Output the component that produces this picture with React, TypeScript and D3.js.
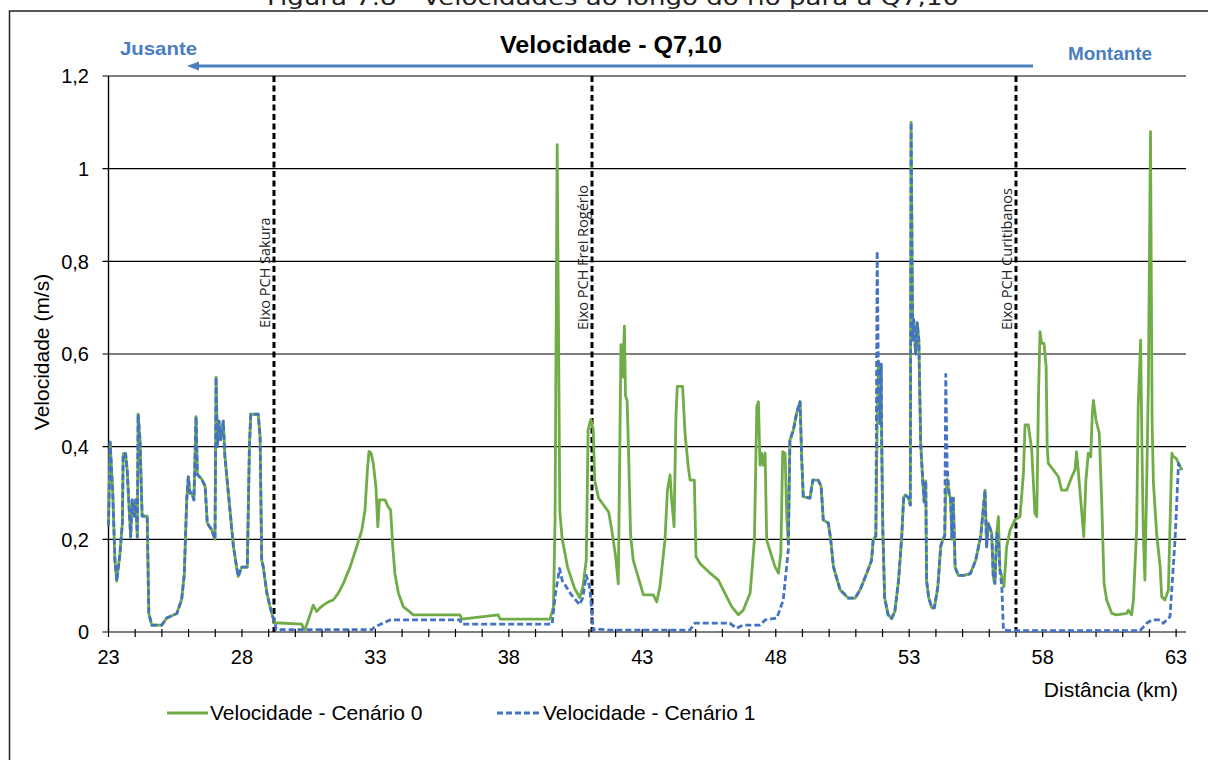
import React from "react";
import * as d3 from "d3";

// ---------- DATA ----------
const xMajorTicks = [23, 28, 33, 38, 43, 48, 53, 58, 63];
const yTicks = [0, 0.2, 0.4, 0.6, 0.8, 1.0, 1.2];
const yTickLabels = ["0", "0,2", "0,4", "0,6", "0,8", "1", "1,2"];

// km, velocity — stretch where both scenarios coincide (upstream of Sakura)
const sharedReach: [number, number][] = [
  [23.0, 0.23], [23.06, 0.41], [23.16, 0.3], [23.24, 0.155], [23.31, 0.11], [23.37, 0.14], [23.43, 0.17],
  [23.52, 0.235], [23.55, 0.385], [23.64, 0.385], [23.7, 0.35], [23.78, 0.26], [23.83, 0.205], [23.89, 0.285],
  [23.97, 0.25], [24.02, 0.285], [24.08, 0.205], [24.11, 0.47], [24.18, 0.415], [24.26, 0.25], [24.45, 0.25],
  [24.51, 0.04], [24.62, 0.015], [25.0, 0.015], [25.18, 0.03], [25.56, 0.04], [25.74, 0.07], [25.84, 0.125],
  [25.93, 0.285], [25.99, 0.335], [26.05, 0.3], [26.12, 0.3], [26.2, 0.285], [26.28, 0.465], [26.33, 0.34],
  [26.49, 0.33], [26.62, 0.315], [26.7, 0.235], [26.87, 0.22], [26.99, 0.2], [27.03, 0.55], [27.08, 0.4],
  [27.14, 0.455], [27.2, 0.415], [27.3, 0.455], [27.36, 0.38], [27.49, 0.3], [27.68, 0.185], [27.8, 0.14],
  [27.86, 0.12], [27.99, 0.14], [28.2, 0.14], [28.28, 0.4], [28.33, 0.47], [28.61, 0.47], [28.68, 0.42],
  [28.74, 0.155], [28.8, 0.14], [28.93, 0.085], [29.05, 0.055], [29.17, 0.03], [29.24, 0.02],
];

// Cenário 0 between Sakura and ~48.5 km
const cenario0Middle: [number, number][] = [
  [30.24, 0.017], [30.29, 0.01], [30.36, 0.005], [30.55, 0.037], [30.67, 0.058], [30.8, 0.044], [30.92, 0.052],
  [31.05, 0.058], [31.24, 0.065], [31.42, 0.069], [31.61, 0.084], [31.8, 0.105], [32.05, 0.14], [32.3, 0.184],
  [32.49, 0.22], [32.61, 0.263], [32.7, 0.35], [32.76, 0.39], [32.84, 0.386], [32.92, 0.364], [33.02, 0.313],
  [33.09, 0.227], [33.15, 0.285], [33.36, 0.285], [33.48, 0.27], [33.57, 0.263], [33.65, 0.184], [33.73, 0.127],
  [33.86, 0.084], [34.05, 0.054], [34.3, 0.043], [34.42, 0.037], [36.17, 0.037], [36.23, 0.028], [37.6, 0.037],
  [37.67, 0.028], [39.54, 0.028], [39.67, 0.054], [39.73, 0.24], [39.81, 1.052], [39.91, 0.259], [40.0, 0.2],
  [40.2, 0.14], [40.45, 0.096], [40.65, 0.074], [40.77, 0.096], [40.9, 0.155], [40.97, 0.437], [41.07, 0.459],
  [41.16, 0.437], [41.22, 0.326], [41.36, 0.289], [41.55, 0.274], [41.74, 0.259], [41.87, 0.215], [42.0, 0.163],
  [42.1, 0.104], [42.2, 0.62], [42.26, 0.55], [42.33, 0.66], [42.37, 0.51], [42.43, 0.5], [42.48, 0.4],
  [42.56, 0.21], [42.66, 0.155], [43.04, 0.08], [43.41, 0.08], [43.54, 0.065], [43.66, 0.098], [43.85, 0.199],
  [43.94, 0.306], [44.04, 0.339], [44.1, 0.285], [44.19, 0.227], [44.26, 0.465], [44.31, 0.53], [44.51, 0.53],
  [44.6, 0.429], [44.72, 0.357], [44.79, 0.328], [44.95, 0.328], [45.01, 0.163], [45.16, 0.148], [45.54, 0.127],
  [45.85, 0.112], [46.03, 0.091], [46.35, 0.055], [46.6, 0.037], [46.78, 0.047], [47.04, 0.084], [47.2, 0.199],
  [47.29, 0.486], [47.35, 0.497], [47.41, 0.36], [47.47, 0.386], [47.53, 0.36], [47.6, 0.386], [47.66, 0.199],
  [47.85, 0.163], [47.97, 0.141], [48.1, 0.127], [48.19, 0.17], [48.26, 0.389], [48.35, 0.386], [48.41, 0.25],
  [48.47, 0.191],
];

// Cenário 1 between Sakura and ~48.5 km
const cenario1Middle: [number, number][] = [
  [29.28, 0.005], [32.86, 0.005], [32.98, 0.011], [33.55, 0.026], [34.3, 0.026], [36.17, 0.026], [36.23, 0.017],
  [39.62, 0.017], [39.74, 0.081], [39.9, 0.137], [40.0, 0.111], [40.33, 0.081], [40.65, 0.059], [40.77, 0.074],
  [40.9, 0.122], [41.03, 0.096], [41.12, 0.037], [41.16, 0.003], [41.23, 0.007], [41.79, 0.004], [44.78, 0.004],
  [44.97, 0.019], [46.28, 0.019], [46.53, 0.008], [46.78, 0.015], [47.41, 0.015], [47.6, 0.026], [48.04, 0.03],
  [48.28, 0.069], [48.47, 0.177],
];

// km, Cenário 0, Cenário 1 — second stretch where the scenarios mostly coincide
const sharedReach2: [number, number, number][] = [
  [48.53, 0.414, 0.414], [48.66, 0.436, 0.436], [48.78, 0.472, 0.472], [48.91, 0.497, 0.497], [48.97, 0.378, 0.378],
  [49.03, 0.292, 0.292], [49.28, 0.289, 0.289], [49.39, 0.328, 0.328], [49.59, 0.328, 0.328], [49.7, 0.314, 0.314],
  [49.78, 0.242, 0.242], [49.97, 0.235, 0.235], [50.06, 0.199, 0.199], [50.16, 0.141, 0.141], [50.41, 0.091, 0.091],
  [50.72, 0.073, 0.073], [50.97, 0.073, 0.073], [51.16, 0.091, 0.091], [51.41, 0.127, 0.127], [51.59, 0.155, 0.155],
  [51.65, 0.199, 0.199], [51.75, 0.207, 0.207], [51.8, 0.45, 0.822], [51.84, 0.585, 0.585], [51.9, 0.55, 0.45],
  [51.95, 0.578, 0.578], [51.97, 0.407, 0.407], [52.01, 0.222, 0.222], [52.08, 0.074, 0.074], [52.21, 0.037, 0.037],
  [52.34, 0.029, 0.029], [52.46, 0.044, 0.044], [52.6, 0.111, 0.111], [52.72, 0.207, 0.207], [52.79, 0.289, 0.289],
  [52.85, 0.296, 0.296], [52.98, 0.289, 0.289], [53.04, 0.274, 0.274], [53.07, 1.1, 1.1], [53.13, 0.63, 0.63],
  [53.17, 0.674, 0.674], [53.24, 0.6, 0.6], [53.3, 0.667, 0.667], [53.36, 0.63, 0.63], [53.43, 0.407, 0.407],
  [53.5, 0.333, 0.333], [53.56, 0.281, 0.281], [53.62, 0.326, 0.326], [53.65, 0.111, 0.111], [53.73, 0.074, 0.074],
  [53.85, 0.052, 0.052], [53.94, 0.052, 0.052], [54.07, 0.096, 0.096], [54.18, 0.185, 0.185], [54.26, 0.2, 0.2],
  [54.33, 0.207, 0.207], [54.37, 0.3, 0.556], [54.42, 0.33, 0.355], [54.5, 0.296, 0.296], [54.55, 0.289, 0.289],
  [54.6, 0.2, 0.2], [54.65, 0.289, 0.289], [54.72, 0.14, 0.14], [54.84, 0.122, 0.122], [55.04, 0.122, 0.122],
  [55.29, 0.126, 0.126], [55.49, 0.155, 0.155], [55.68, 0.207, 0.207], [55.84, 0.306, 0.306], [55.9, 0.184, 0.184],
  [55.96, 0.235, 0.235], [56.09, 0.213, 0.213], [56.15, 0.119, 0.119], [56.21, 0.105, 0.105], [56.28, 0.213, 0.213],
  [56.34, 0.249, 0.2], [56.4, 0.134, 0.134],
];

// Cenário 0 downstream end
const cenario0End: [number, number][] = [
  [56.47, 0.119], [56.55, 0.098], [56.65, 0.184], [56.78, 0.22], [56.96, 0.242], [57.15, 0.249], [57.28, 0.343],
  [57.34, 0.447], [57.46, 0.447], [57.59, 0.393], [57.71, 0.256], [57.78, 0.249], [57.84, 0.5], [57.9, 0.648],
  [57.96, 0.623], [58.05, 0.623], [58.13, 0.573], [58.17, 0.4], [58.21, 0.364], [58.4, 0.35], [58.59, 0.335],
  [58.71, 0.306], [58.9, 0.306], [59.09, 0.335], [59.21, 0.35], [59.27, 0.389], [59.33, 0.35], [59.54, 0.206],
  [59.62, 0.328], [59.71, 0.386], [59.8, 0.378], [59.86, 0.472], [59.9, 0.5], [60.0, 0.457], [60.12, 0.429],
  [60.21, 0.285], [60.3, 0.105], [60.4, 0.069], [60.59, 0.04], [60.77, 0.037], [61.15, 0.04], [61.21, 0.047],
  [61.33, 0.037], [61.4, 0.069], [61.52, 0.22], [61.58, 0.49], [61.67, 0.63], [61.72, 0.4], [61.77, 0.213],
  [61.83, 0.112], [61.9, 0.328], [61.96, 0.537], [62.04, 1.08], [62.1, 0.45], [62.15, 0.321], [62.27, 0.213],
  [62.4, 0.141], [62.46, 0.076], [62.58, 0.069], [62.71, 0.091], [62.84, 0.386], [62.9, 0.378], [63.0, 0.375],
  [63.15, 0.357], [63.22, 0.35],
];

// Cenário 1 downstream end
const cenario1End: [number, number][] = [
  [56.47, 0.098], [56.53, 0.004], [56.78, 0.003], [61.65, 0.003], [61.9, 0.019], [62.09, 0.026], [62.4, 0.026],
  [62.52, 0.019], [62.77, 0.033], [62.96, 0.2], [63.09, 0.364], [63.21, 0.35],
];

const damKm = [29.2, 41.115, 57.0];
const damLabels = ["Eixo PCH Sakura", "Eixo PCH Frei Rogério", "Eixo PCH Curitibanos"];

const seriesNames = ["Velocidade - Cenário 0", "Velocidade - Cenário 1"];

// ---------- CHART ----------
const W = 1208;
const H = 760;
const GREEN = "#70ad47";
const BLUE = "#4472c4";
const ARROW_BLUE = "#4a7ebf";
const FONT = "'Liberation Sans', Arial, Helvetica, sans-serif";

export default function App() {
  const x = d3.scaleLinear().domain([23, 63.37]).range([108.5, 1186]);
  const y = d3.scaleLinear().domain([0, 1.2]).range([632, 76]);

  const cen0: [number, number][] = [
    ...sharedReach,
    ...cenario0Middle,
    ...sharedReach2.map((d) => [d[0], d[1]] as [number, number]),
    ...cenario0End,
  ];
  const cen1: [number, number][] = [
    ...sharedReach,
    ...cenario1Middle,
    ...sharedReach2.map((d) => [d[0], d[2]] as [number, number]),
    ...cenario1End,
  ];

  const line = d3
    .line<[number, number]>()
    .x((d) => x(d[0]))
    .y((d) => y(d[1]));

  const minorTicks = d3.range(23, 64, 1);
  const [x0, x1] = x.range();

  return (
    <div style={{ position: "absolute", left: 0, top: 0 }}>
      <svg width={W} height={H} style={{ display: "block", background: "#fff" }}>
        <rect x={0} y={0} width={W} height={H} fill="#fff" />
        {/* caption (the reference shows it cut at the top edge) */}
        <text
          x={613}
          y={5}
          textAnchor="middle"
          fontFamily="'DejaVu Sans', sans-serif"
          fontSize={21}
          fill="#222"
          textLength={692}
          lengthAdjust="spacingAndGlyphs"
        >
          Figura 7.8 - Velocidades ao longo do rio para a Q7,10
        </text>
        {/* frame */}
        <rect x={9.5} y={11} width={W + 10} height={H + 10} fill="none" stroke="#222" strokeWidth={1.5} />

        {/* title */}
        <text x={611} y={53} textAnchor="middle" fontFamily={FONT} fontWeight="bold" fontSize={23} fill="#000"
          textLength={222} lengthAdjust="spacingAndGlyphs">
          Velocidade - Q7,10
        </text>
        <text x={120} y={55} fontFamily={FONT} fontWeight="bold" fontSize={19} fill={ARROW_BLUE}
          textLength={77} lengthAdjust="spacingAndGlyphs">
          Jusante
        </text>
        <text x={1068} y={60} fontFamily={FONT} fontWeight="bold" fontSize={18} fill={ARROW_BLUE}
          textLength={84} lengthAdjust="spacingAndGlyphs">
          Montante
        </text>
        <line x1={1033} y1={66} x2={198} y2={66} stroke={ARROW_BLUE} strokeWidth={3} />
        <path d="M187,66 L199,61.5 L199,70.5 Z" fill={ARROW_BLUE} />

        {/* gridlines */}
        {yTicks.map((t) => (
          <line key={"g" + t} x1={x0 - 6} x2={x1} y1={y(t)} y2={y(t)} stroke="#000" strokeWidth={1.2} />
        ))}
        {/* y axis */}
        <line x1={x0} x2={x0} y1={y(1.2)} y2={y(0)} stroke="#000" strokeWidth={1.4} />
        {yTicks.map((t, i) => (
          <text key={"yl" + t} x={89} y={y(t)} dy="0.36em" textAnchor="end" fontFamily={FONT} fontSize={20} fill="#000">
            {yTickLabels[i]}
          </text>
        ))}
        {/* x ticks */}
        {minorTicks.map((t) => (
          <line key={"xt" + t} x1={x(t)} x2={x(t)} y1={y(0) - 3} y2={y(0) + 5} stroke="#000" strokeWidth={1.2} />
        ))}
        {xMajorTicks.map((t) => (
          <text key={"xl" + t} x={x(t)} y={664} textAnchor="middle" fontFamily={FONT} fontSize={20} fill="#000">
            {t}
          </text>
        ))}

        {/* axis titles */}
        <text
          transform={`translate(49,352) rotate(-90)`}
          textAnchor="middle"
          fontFamily={FONT}
          fontSize={21}
          fill="#000"
        >
          Velocidade (m/s)
        </text>
        <text x={1178} y={697} textAnchor="end" fontFamily={FONT} fontSize={21} fill="#000">
          Distância (km)
        </text>

        {/* dam lines */}
        {damKm.map((k, i) => (
          <g key={"dam" + i}>
            <line x1={x(k)} x2={x(k)} y1={y(1.2)} y2={y(0)} stroke="#000" strokeWidth={3} strokeDasharray="6 3.5" />
            <text
              transform={`translate(${x(k) - 4},${i === 0 ? 328 : 330}) rotate(-90)`}
              fontFamily="'Open Sans', sans-serif"
              fontSize={14.5}
              fill="#222"
            >
              {damLabels[i]}
            </text>
          </g>
        ))}

        {/* series */}
        <path d={line(cen0) || ""} fill="none" stroke={GREEN} strokeWidth={2.8} strokeLinejoin="round" />
        <path d={line(cen1) || ""} fill="none" stroke={BLUE} strokeWidth={2.8} strokeDasharray="6 3" strokeLinejoin="round" />

        {/* legend */}
        <line x1={167} x2={208} y1={713} y2={713} stroke={GREEN} strokeWidth={3} />
        <text x={210} y={720} fontFamily={FONT} fontSize={21} fill="#000">
          {seriesNames[0]}
        </text>
        <line x1={497} x2={541} y1={713} y2={713} stroke={BLUE} strokeWidth={3} strokeDasharray="6 3" />
        <text x={543} y={720} fontFamily={FONT} fontSize={21} fill="#000">
          {seriesNames[1]}
        </text>
      </svg>
    </div>
  );
}
